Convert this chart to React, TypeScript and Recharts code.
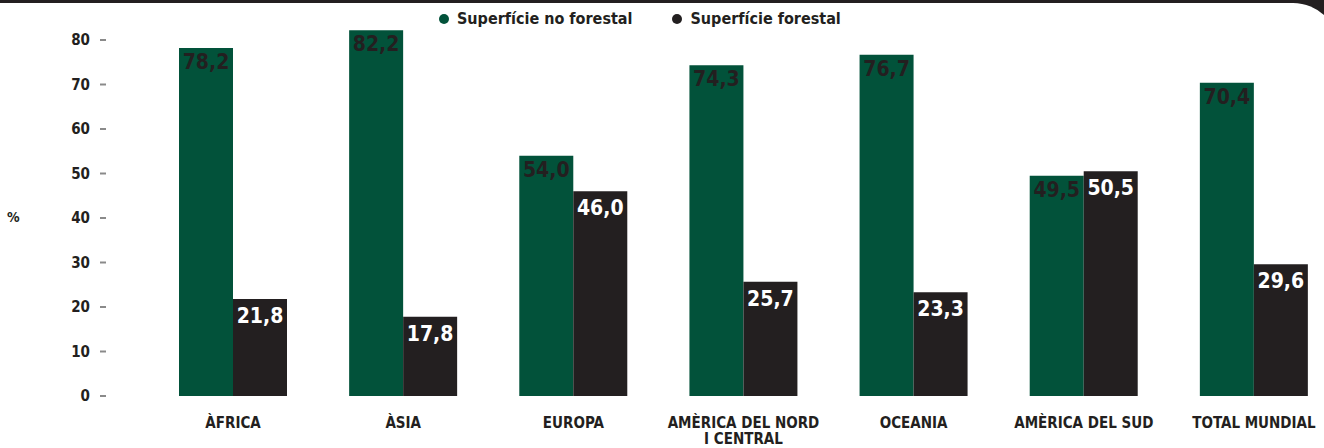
import React from "react";
import { BarChart, Bar, XAxis, YAxis, LabelList } from "recharts";

const categories = [
  "ÀFRICA",
  "ÀSIA",
  "EUROPA",
  "AMÈRICA DEL NORD\nI CENTRAL",
  "OCEANIA",
  "AMÈRICA DEL SUD",
  "TOTAL MUNDIAL",
];
const noForestal = [78.2, 82.2, 54.0, 74.3, 76.7, 49.5, 70.4];
const forestal = [21.8, 17.8, 46.0, 25.7, 23.3, 50.5, 29.6];
const yTicks = [0, 10, 20, 30, 40, 50, 60, 70, 80];
const legendItems = ["Superfície no forestal", "Superfície forestal"];

const GREEN = "#02523a";
const DARK = "#231f20";
const FONT = "'DejaVu Sans Condensed', 'DejaVu Sans', sans-serif";

const data = categories.map((name, i) => ({
  name,
  noForestal: noForestal[i],
  forestal: forestal[i],
}));

const fmt = (v: number) => v.toFixed(1).replace(".", ",");

function YTick({ y, payload }: any) {
  return (
    <g>
      <text x={90} y={y} dy={5} textAnchor="end" fill={DARK} fontSize={15} fontWeight="bold" fontFamily={FONT}>
        {payload.value}
      </text>
      <line x1={100} x2={106} y1={y} y2={y} stroke="#8a8a8a" strokeWidth={2} />
    </g>
  );
}

function XTick({ x, y, payload }: any) {
  const lines = String(payload.value).split("\n");
  return (
    <text x={x} y={y} textAnchor="middle" fill={DARK} fontSize={15} fontWeight="bold" fontFamily={FONT}>
      {lines.map((l, i) => (
        <tspan key={i} x={x} y={y + 24 + i * 16}>
          {l}
        </tspan>
      ))}
    </text>
  );
}

function makeLabel(color: string, offset: number) {
  return ({ x, y, width, value }: any) => (
    <text
      x={x + width / 2}
      y={y + offset}
      textAnchor="middle"
      fill={color}
      fontSize={21}
      fontWeight="bold"
      fontFamily={FONT}
    >
      {fmt(value)}
    </text>
  );
}

export default function App() {
  const colors = [GREEN, DARK];
  return (
    <div
      style={{
        position: "fixed",
        left: 0,
        top: 0,
        width: 1324,
        height: 448,
        background: DARK,
        overflow: "hidden",
      }}
    >
      <div
        style={{
          position: "absolute",
          left: 0,
          top: 3,
          width: 1339,
          height: 460,
          background: "#fff",
          borderTopRightRadius: 46,
        }}
      />
      <div
        style={{
          position: "absolute",
          left: 7,
          top: 209,
          fontFamily: FONT,
          fontWeight: "bold",
          fontSize: 14,
          color: DARK,
        }}
      >
        %
      </div>
      <div
        style={{
          position: "absolute",
          left: 439,
          top: 9,
          display: "flex",
          gap: 40,
          fontFamily: FONT,
          fontWeight: "bold",
          fontSize: 16,
          color: DARK,
        }}
      >
        {legendItems.map((label, i) => (
          <div key={label} style={{ display: "flex", alignItems: "center", gap: 8 }}>
            <span style={{ width: 10, height: 10, borderRadius: 5, background: colors[i], display: "inline-block" }} />
            <span>{label}</span>
          </div>
        ))}
      </div>
      <div style={{ position: "absolute", left: 0, top: 0 }}>
        <BarChart
          width={1341}
          height={448}
          data={data}
          margin={{ top: 17.75, right: 2, left: 0, bottom: 0 }}
          barGap={0}
        >
          <XAxis
            dataKey="name"
            axisLine={false}
            tickLine={false}
            height={52}
            interval={0}
            tick={<XTick />}
          />
          <YAxis
            domain={[0, 85]}
            ticks={yTicks}
            width={148}
            axisLine={false}
            tickLine={false}
            tick={<YTick />}
          />
          <Bar dataKey="noForestal" fill={GREEN} barSize={54} isAnimationActive={false}>
            <LabelList dataKey="noForestal" content={makeLabel(DARK, 21)} />
          </Bar>
          <Bar dataKey="forestal" fill={DARK} barSize={54} isAnimationActive={false}>
            <LabelList dataKey="forestal" content={makeLabel("#fff", 24)} />
          </Bar>
        </BarChart>
      </div>
    </div>
  );
}
